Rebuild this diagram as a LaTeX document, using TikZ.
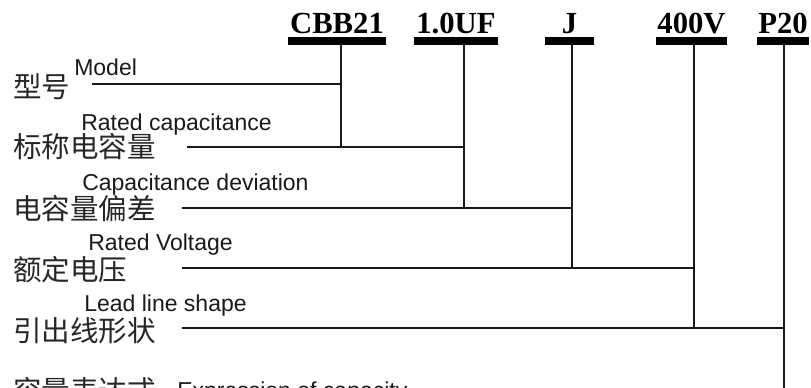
\documentclass[tikz,border=0pt]{standalone}
\usepackage{fontspec}
\setmainfont{Liberation Sans}
\newfontfamily\cjk{Noto Sans CJK SC}
\newfontfamily\codefont{Liberation Serif}
\begin{document}
\begin{tikzpicture}[x=0.75pt,y=-0.75pt,
  cn/.style={anchor=base west,inner sep=0pt,font=\cjk\fontsize{21.4}{24}\selectfont,text=black!85},
  en/.style={anchor=base west,inner sep=0pt,font=\fontsize{17.25}{20}\selectfont,text=black!90},
  code/.style={anchor=base,inner sep=0pt,font=\codefont\bfseries\fontsize{23}{26}\selectfont},
  bar/.style={fill=black,draw=none,inner sep=0pt,minimum height=6pt},
  ln/.style={line width=1.2pt,black!90}]
\useasboundingbox (0,0) rectangle (811,387);
\clip (0,0) rectangle (811,387);
% codes and bars
\node[code] (tCBB) at (337,33) {CBB21};
\node[code] (tUF) at (456,33) {1.0UF};
\node[code] (tJ) at (569.5,33) {J};
\node[code] (tV) at (691.5,33) {400V};
\node[code] (tP) at (783,33) {P20};
\node[bar,minimum width=73.5pt] (bCBB) at (337,41) {};
\node[bar,minimum width=63pt] (bUF) at (456,41) {};
\node[bar,minimum width=36.75pt] (bJ) at (569.5,41) {};
\node[bar,minimum width=53.25pt] (bV) at (691.5,41) {};
\node[bar,minimum width=39pt] (bP) at (783,41) {};
% labels
\node[cn] (cModel) at (13,97) {型号};
\node[en] (eModel) at (74,75) {Model};
\node[cn] (cCap) at (13,157) {标称电容量};
\node[en] (eCap) at (81,130) {Rated capacitance};
\node[cn] (cDev) at (13,219) {电容量偏差};
\node[en] (eDev) at (82,190) {Capacitance deviation};
\node[cn] (cVol) at (13,280) {额定电压};
\node[en] (eVol) at (88,250) {Rated Voltage};
\node[cn] (cLead) at (13,341) {引出线形状};
\node[en] (eLead) at (84,311) {Lead line shape};
\node[cn] (cExp) at (13,401) {容量表达式};
\node[en] (eExp) at (177,398) {Expression of capacity};
% line start points and junctions
\coordinate (sModel) at (92,84);
\coordinate (sCap) at (187,147);
\coordinate (sDev) at (182,208);
\coordinate (sVol) at (182,268);
\coordinate (sLead) at (182,328);
\coordinate (jModel) at (341,84);
\coordinate (jCap) at (341,147);
\coordinate (jDev) at (464,208);
\coordinate (jVol) at (572,268);
\coordinate (jLead) at (694,328);
\coordinate (jEnd) at (784,400);
\coordinate (kCap) at (464,147);
\coordinate (kDev) at (572,208);
\coordinate (kVol) at (694,268);
\coordinate (kLead) at (784,328);
% verticals
\draw[ln] (jCap |- bCBB.south) -- (jCap);
\draw[ln] (jDev |- bUF.south) -- (jDev);
\draw[ln] (jVol |- bJ.south) -- (jVol);
\draw[ln] (jLead |- bV.south) -- (jLead);
\draw[ln] (jEnd |- bP.south) -- (jEnd);
% horizontals
\draw[ln] (sModel) -- (jModel);
\draw[ln] (sCap) -- (kCap);
\draw[ln] (sDev) -- (kDev);
\draw[ln] (sVol) -- (kVol);
\draw[ln] (sLead) -- (kLead);
\end{tikzpicture}
\end{document}
